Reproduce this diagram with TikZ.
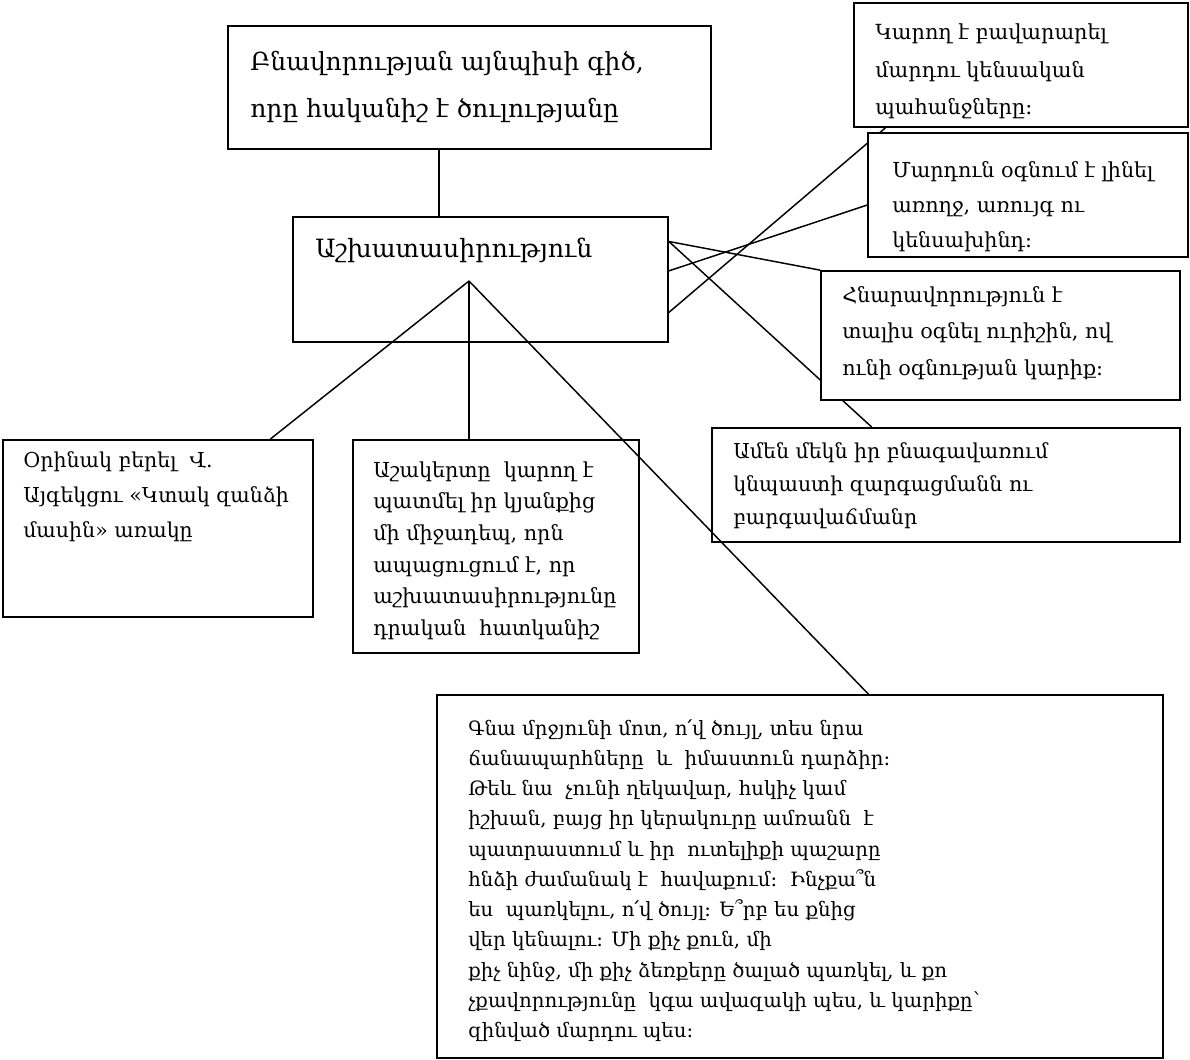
\documentclass[tikz,border=0pt]{standalone}
\usepackage{fontspec}
\setmainfont{DejaVu Serif}
\usetikzlibrary{calc,fit}
\pgfdeclarelayer{back}
\pgfsetlayers{back,main}
\newcommand\mlines[1]{\begin{tabular}[t]{@{}l@{}}#1\end{tabular}}
\tikzset{
  box/.style={draw, fill=white, line width=1.3pt, inner sep=0pt, rectangle},
  conn/.style={line width=1.1pt},
  txt/.style={inner sep=0pt, anchor=base west},
}
\begin{document}
\begin{tikzpicture}[x=0.75pt,y=-0.75pt]
\begin{pgfonlayer}{back}
\fill[white] (0,0) rectangle (1190,1060);
\end{pgfonlayer}
\useasboundingbox (0,0) rectangle (1190,1060);

% boxes
\node[box, fit={(228,26)(711,149)}] (top) {};
\node[box, fit={(293,217)(668,342)}] (mid) {};
\node[box, fit={(854,3)(1188,127)}] (r1) {};
\node[box, fit={(868,133)(1188,257)}] (r2) {};
\node[box, fit={(821,271)(1180,400)}] (r3) {};
\node[box, fit={(712,428)(1180,542)}] (r4) {};
\node[box, fit={(3,440)(313,617)}] (l1) {};
\node[box, fit={(353,440)(639,653)}] (c2) {};
\node[box, fit={(437,695)(1163,1058)}] (bot) {};

% helper coordinates
\coordinate (ax) at (439,0);
\coordinate (apex) at (469,281);
\coordinate (m1) at ($(mid.north east)!0.2!(mid.south east)$);
\coordinate (m2) at ($(mid.north east)!0.432!(mid.south east)$);
\coordinate (m3) at ($(mid.north east)!0.76!(mid.south east)$);

% connectors hidden behind boxes
\begin{pgfonlayer}{back}
\draw[conn] (m1) -- ($(r4.north west)!0.342!(r4.north east)$);
\draw[conn] (m3) -- ($(r1.south west)!0.096!(r1.south east)$);
\end{pgfonlayer}

% connectors
\draw[conn] (top.south -| ax) -- (mid.north -| ax);
\draw[conn] (m1) -- (r3.north west);
\draw[conn] (m2) -- ($(r2.north west)!0.58!(r2.south west)$);
\draw[conn] (apex) -- (l1);
\draw[conn] (apex) -- (apex |- c2.north);
\draw[conn] (apex) -- ($(bot.north west)!0.594!(bot.north east)$);

% texts
\node[txt, font={\fontsize{18.7pt}{35.25pt}\selectfont}] (top-t) at (250,70)
  {\mlines{Բնավորության այնպիսի գիծ,\\որը հականիշ է ծուլությանը}};
\node[txt, font={\fontsize{18.9pt}{24pt}\selectfont}] (mid-t) at (315,257)
  {Աշխատասիրություն};
\node[txt, font={\fontsize{15.6pt}{28.1pt}\selectfont}] (r1-t) at (875,40)
  {\mlines{Կարող է բավարարել\\մարդու կենսական\\պահանջները:}};
\node[txt, font={\fontsize{15.5pt}{26.6pt}\selectfont}] (r2-t) at (892,177)
  {\mlines{Մարդուն օգնում է լինել\\առողջ, առույգ ու\\կենսախինդ:}};
\node[txt, font={\fontsize{15.5pt}{27.4pt}\selectfont}] (r3-t) at (842,302)
  {\mlines{Հնարավորություն է\\տալիս օգնել ուրիշին, ով\\ունի օգնության կարիք:}};
\node[txt, font={\fontsize{15.4pt}{25.1pt}\selectfont}] (r4-t) at (733,458)
  {\mlines{Ամեն մեկն իր բնագավառում\\կնպաստի զարգացմանն ու\\բարգավաճմանր}};
\node[txt, font={\fontsize{15.4pt}{26.6pt}\selectfont}] (l1-t) at (23,467)
  {\mlines{Օրինակ բերել\ \ Վ.\\Այգեկցու «Կտակ զանձի\\մասին» առակը}};
\node[txt, font={\fontsize{15.5pt}{23.8pt}\selectfont}] (c2-t) at (373,477)
  {\mlines{Աշակերտը\ \ կարող է\\պատմել իր կյանքից\\մի միջադեպ, որն\\ապացուցում է, որ\\աշխատասիրությունը\\դրական\ \ հատկանիշ}};
\node[txt, font={\fontsize{14.8pt}{22.7pt}\selectfont}] (bot-t) at (468,735)
  {\mlines{Գնա մրջյունի մոտ, ո՛վ ծույլ, տես նրա\\
ճանապարհները\ \ և\ \ իմաստուն դարձիր:\\
Թեև նա\ \ չունի ղեկավար, հսկիչ կամ\\
իշխան, բայց իր կերակուրը ամռանն\ \ է\\
պատրաստում և իր\ \ ուտելիքի պաշարը\\
հնձի ժամանակ է\ \ հավաքում:\ \ Ինչքա՞ն\\
ես\ \ պառկելու, ո՛վ ծույլ: Ե՞րբ ես քնից\\
վեր կենալու: Մի քիչ քուն, մի\\
քիչ նինջ, մի քիչ ձեռքերը ծալած պառկել, և քո\\
չքավորությունը\ \ կգա ավազակի պես, և կարիքը՝\\
զինված մարդու պես:}};
\end{tikzpicture}
\end{document}
